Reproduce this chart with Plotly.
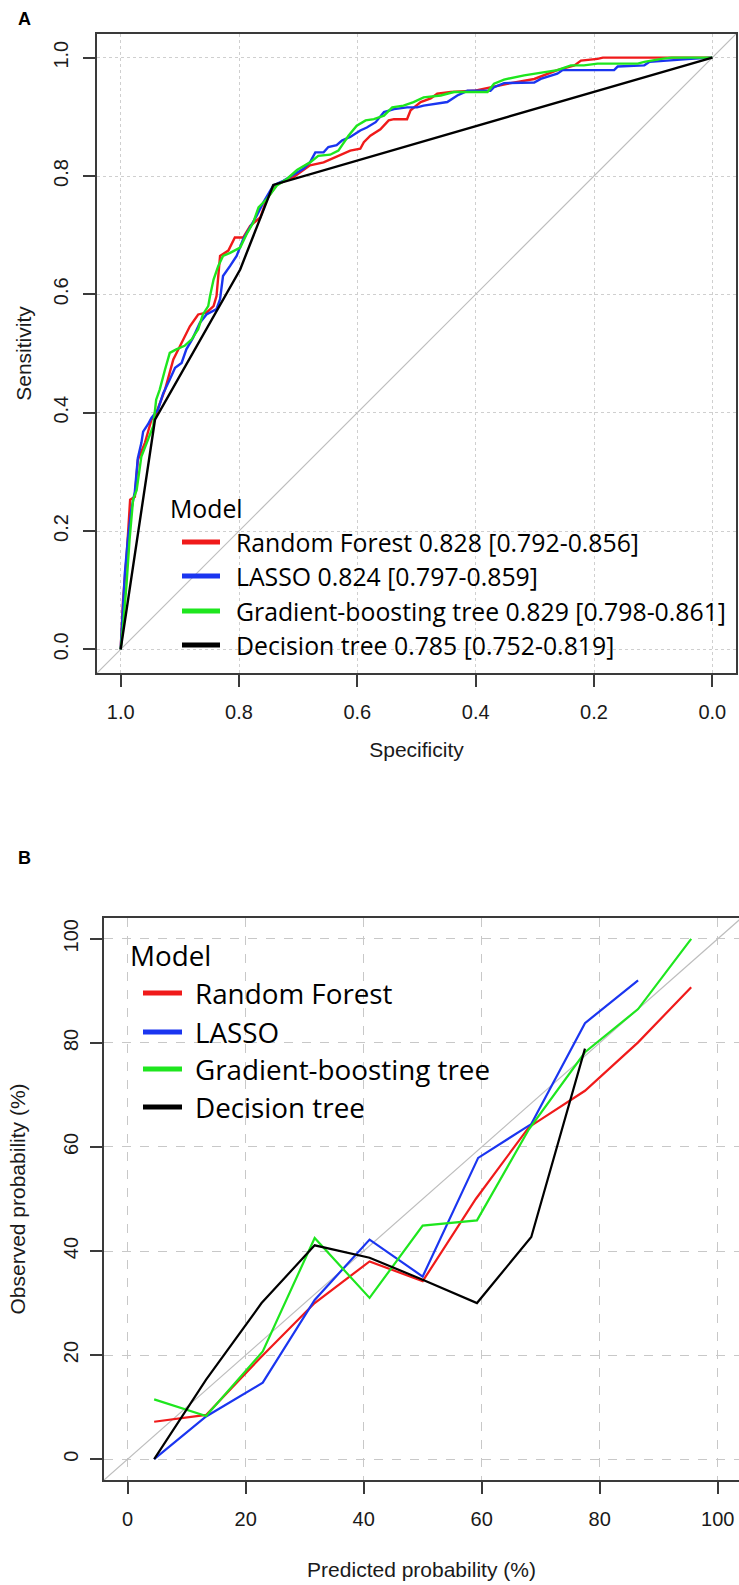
import plotly.graph_objects as go

W, H = 739, 1585

# ---------------- Panel A: ROC data (specificity, sensitivity) ----------------
rf_spec = [1, .996, .990, .984, .976, .971, .959, .948, .942, .925, .911, .897, .883, .869, .855, .843, .838, .832,
           .818, .807, .793, .781, .764, .753, .736, .708, .680, .657, .629, .612, .595, .589, .578, .561, .547,
           .538, .516, .510, .493, .476, .465, .442, .403, .363, .341, .301, .262, .233, .222, .194, .185, 0]
rf_sens = [0, .083, .156, .253, .258, .320, .349, .388, .394, .439, .490, .518, .546, .566, .569, .580, .597, .665,
           .674, .696, .696, .716, .730, .761, .786, .798, .818, .823, .836, .843, .846, .857, .868, .879, .894,
           .896, .896, .911, .925, .931, .939, .942, .944, .953, .957, .964, .979, .987, .995, .998, 1.0, 1.0]

lasso_spec = [1, .997, .993, .988, .982, .976, .971, .965, .962, .954, .948, .937, .928, .917, .908, .897, .889, .878,
              .866, .855, .838, .832, .827, .815, .804, .793, .781, .770, .759, .742, .725, .702, .691, .680, .671,
              .657, .649, .635, .626, .612, .595, .584, .569, .555, .538, .516, .499, .488, .465, .448, .431, .414,
              .375, .369, .352, .301, .290, .262, .253, .166, .160, .115, .106, .069, .036, 0]
lasso_sens = [0, .060, .128, .185, .236, .267, .323, .349, .368, .380, .391, .405, .433, .456, .476, .484, .507, .526,
              .552, .566, .575, .592, .631, .648, .665, .693, .713, .733, .755, .784, .792, .806, .812, .823, .840,
              .840, .849, .852, .860, .866, .877, .882, .891, .908, .913, .916, .916, .919, .922, .925, .936, .944,
              .944, .950, .957, .958, .964, .973, .979, .979, .985, .987, .993, .995, .998, 1.0]

gbt_spec = [1, .996, .990, .985, .979, .973, .965, .956, .945, .940, .934, .925, .917, .906, .892, .880, .869, .861,
            .852, .849, .843, .835, .827, .815, .798, .787, .776, .767, .753, .736, .719, .702, .680, .666, .646,
            .632, .615, .601, .586, .572, .555, .541, .522, .505, .488, .459, .437, .380, .369, .352, .318, .262,
            .239, .217, .194, .126, .115, .086, .069, 0]
gbt_sens = [0, .038, .111, .185, .253, .269, .326, .349, .377, .422, .439, .473, .501, .507, .513, .524, .541, .566,
            .580, .597, .625, .648, .665, .670, .679, .702, .721, .747, .761, .784, .795, .810, .823, .834, .836,
            .843, .868, .885, .894, .896, .902, .916, .919, .925, .933, .936, .942, .942, .956, .963, .970, .979,
            .987, .987, .990, .990, .993, .998, 1.0, 1.0]

dt_spec = [1, .942, .798, .742, 0]
dt_sens = [0, .388, .642, .785, 1.0]

roc_labels = ["Random Forest 0.828 [0.792-0.856]",
              "LASSO 0.824 [0.797-0.859]",
              "Gradient-boosting tree 0.829 [0.798-0.861]",
              "Decision tree 0.785 [0.752-0.819]"]
roc_ticks = [1.0, 0.8, 0.6, 0.4, 0.2, 0.0]
roc_ticktext = ["1.0", "0.8", "0.6", "0.4", "0.2", "0.0"]

# ---------------- Panel B: calibration data (%) ----------------
rf_pred = [4.5, 13.3, 22.5, 31.7, 41, 50, 59, 68, 77.5, 86.5, 95.5]
rf_obs = [7.2, 8.5, 19.5, 30, 38, 34.2, 50, 63.8, 70.8, 80.1, 90.7]
lasso_pred = [4.5, 13.3, 22.9, 31.7, 41, 50, 59.4, 68.4, 77.5, 86.5]
lasso_obs = [0, 8.2, 14.7, 30.6, 42.2, 35.1, 57.9, 64.4, 83.8, 92]
gbt_pred = [4.5, 13.3, 22.9, 31.7, 41, 50, 59.2, 68, 77.5, 86.5, 95.5]
gbt_obs = [11.5, 8.3, 20.7, 42.5, 31, 44.9, 45.9, 63.4, 78.2, 86.5, 100]
dt_pred = [4.5, 13.3, 22.7, 31.7, 41, 50, 59.2, 68.4, 77.5]
dt_obs = [0, 15.3, 30, 41.1, 38.7, 34.5, 30, 42.7, 78.9]

cal_labels = ["Random Forest", "LASSO", "Gradient-boosting tree", "Decision tree"]
cal_ticks = [0, 20, 40, 60, 80, 100]

colors = ["#f01a1a", "#1a35f0", "#1ee61e", "#000000"]

# ---------------- helpers ----------------
def px(x):
    return x / W


def py(y):
    return 1 - y / H


FONT_AX = "Liberation Sans, Arial, sans-serif"
FONT_LEG = "Open Sans, Calibri, sans-serif"
AXCOL = "#3a3a3a"
TXT = "#1a1a1a"

fig = go.Figure()

# ROC
xrA = [1.04, -0.04]
yrA = [-0.04, 1.04]
fig.add_trace(go.Scatter(x=xrA, y=[1 - v for v in xrA], mode="lines",
                         line=dict(color="#bdbdbd", width=1.2), showlegend=False, hoverinfo="skip",
                         xaxis="x", yaxis="y"))
for spec, sens, c in [(rf_spec, rf_sens, colors[0]), (lasso_spec, lasso_sens, colors[1]),
                      (gbt_spec, gbt_sens, colors[2]), (dt_spec, dt_sens, colors[3])]:
    fig.add_trace(go.Scatter(x=spec, y=sens, mode="lines", line=dict(color=c, width=2.4),
                             showlegend=False, xaxis="x", yaxis="y"))

# Calibration
xrB = [-4, 103.6]
yrB = [-4, 104]
fig.add_trace(go.Scatter(x=[-4, 110], y=[-4, 110], mode="lines",
                         line=dict(color="#bdbdbd", width=1.2), showlegend=False, hoverinfo="skip",
                         xaxis="x2", yaxis="y2"))
for xs, ys, c in [(rf_pred, rf_obs, colors[0]), (lasso_pred, lasso_obs, colors[1]),
                  (gbt_pred, gbt_obs, colors[2]), (dt_pred, dt_obs, colors[3])]:
    fig.add_trace(go.Scatter(x=xs, y=ys, mode="lines", line=dict(color=c, width=2.2),
                             showlegend=False, xaxis="x2", yaxis="y2"))

axis_common = dict(showline=True, linecolor=AXCOL, linewidth=1.5, ticks="outside", ticklen=12,
                   tickwidth=1.5, tickcolor=AXCOL, zeroline=False, showgrid=True, gridwidth=1.3,
                   automargin=False,
                   tickfont=dict(family=FONT_AX, size=20, color=TXT),
                   title_font=dict(family=FONT_AX, size=21, color=TXT))

fig.update_layout(
    width=W, height=H, margin=dict(l=0, r=0, t=0, b=0, autoexpand=False),
    paper_bgcolor="white", plot_bgcolor="white", showlegend=False,
    xaxis=dict(domain=[px(97), px(736)], range=xrA, anchor="y", mirror=True,
               tickvals=roc_ticks, ticktext=roc_ticktext, griddash="dot", gridcolor="#cfcfcf",
               ticklabelstandoff=8, title=dict(text="Specificity", standoff=21), **axis_common),
    yaxis=dict(domain=[py(673), py(34)], range=yrA, anchor="x", mirror=True,
               tickvals=roc_ticks, ticktext=roc_ticktext, griddash="dot", gridcolor="#cfcfcf",
               tickangle=-90, ticklabelstandoff=7, title=dict(text="Sensitivity", standoff=13), **axis_common),
    xaxis2=dict(domain=[px(104), 1.0], range=xrB, anchor="y2", mirror=True,
                tickvals=cal_ticks, griddash="dash", gridcolor="#c8c8c8",
                ticklabelstandoff=8, title=dict(text="Predicted probability (%)", standoff=34), **axis_common),
    yaxis2=dict(domain=[py(1480), py(918)], range=yrB, anchor="x2", mirror=False,
                tickvals=cal_ticks, griddash="dash", gridcolor="#c8c8c8",
                tickangle=-90, ticklabelstandoff=4,
                title=dict(text="Observed probability (%)", standoff=29), **axis_common),
)

shapes = []
annotations = []

# Panel letters
annotations.append(dict(text="<b>A</b>", x=px(16), y=py(19), xref="paper", yref="paper",
                        xanchor="left", yanchor="middle", showarrow=False,
                        font=dict(family=FONT_AX, size=18, color="#000")))
annotations.append(dict(text="<b>B</b>", x=px(16), y=py(858), xref="paper", yref="paper",
                        xanchor="left", yanchor="middle", showarrow=False,
                        font=dict(family=FONT_AX, size=18, color="#000")))


def add_legend(title_x, title_y, line_x0, line_x1, text_x, rows_y, labels, size):
    annotations.append(dict(text="Model", x=px(title_x), y=py(title_y), xref="paper", yref="paper",
                            xanchor="left", yanchor="middle", showarrow=False,
                            font=dict(family=FONT_LEG, size=size, color="#000")))
    for yy, lab, c in zip(rows_y, labels, colors):
        shapes.append(dict(type="line", xref="paper", yref="paper", x0=px(line_x0), x1=px(line_x1),
                           y0=py(yy), y1=py(yy), line=dict(color=c, width=5)))
        annotations.append(dict(text=lab, x=px(text_x), y=py(yy), xref="paper", yref="paper",
                                xanchor="left", yanchor="middle", showarrow=False,
                                font=dict(family=FONT_LEG, size=size, color="#000")))


add_legend(168, 508, 182, 220, 234, [542, 576, 611, 645], roc_labels, 24.8)
add_legend(128, 955, 143, 182, 193, [993, 1032, 1069, 1107], cal_labels, 27.8)

fig.update_layout(shapes=shapes, annotations=annotations)

fig.write_html("out.html", config={"displayModeBar": False},
               post_script="document.body.style.margin='0';document.body.style.overflow='hidden';")
